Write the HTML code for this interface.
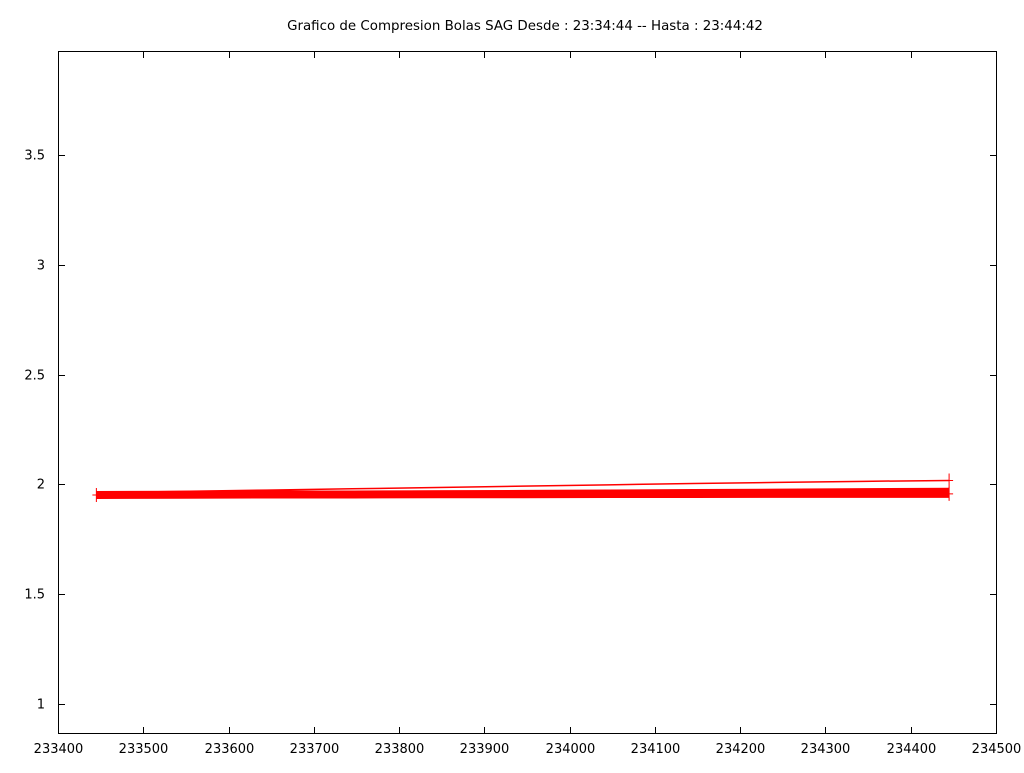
<!DOCTYPE html>
<html><head><meta charset="utf-8"><style>
html,body{margin:0;padding:0;background:#fff;}
svg text{font-family:"DejaVu Sans","Liberation Sans",sans-serif;font-size:13px;fill:#000;}
svg text.title{font-size:13.4px;}
</style></head><body>
<svg id="chart" width="1024" height="768">
<text class="title" x="525" y="30" text-anchor="middle">Grafico de Compresion Bolas SAG Desde : 23:34:44 -- Hasta : 23:44:42</text>
<rect x="58.5" y="51.5" width="938" height="682" fill="none" stroke="#000"/>
<g id="axes"></g><g id="marks"></g>
</svg>
<script>
const xTicks=[233400,233500,233600,233700,233800,233900,234000,234100,234200,234300,234400,234500];
const yTicks=[1,1.5,2,2.5,3,3.5];
const xs=[233445,233545,233645,233745,233845,233945,234045,234145,234245,234345,234445];
const upper=[1.962,1.968,1.974,1.980,1.986,1.992,1.998,2.004,2.009,2.014,2.018];
const middle=[1.958,1.960,1.962,1.964,1.966,1.968,1.970,1.972,1.974,1.976,1.978];
const lower=[1.952,1.953,1.954,1.954,1.955,1.955,1.956,1.956,1.957,1.957,1.957];
const X=v=>58+(v-233400)*938/1100;
const Y=v=>704-(v-1)*219.6;
const ns="http://www.w3.org/2000/svg";
const ax=document.getElementById('axes'),mk=document.getElementById('marks');
function mkEl(t,a,p){const e=document.createElementNS(ns,t);for(const k in a)e.setAttribute(k,a[k]);p.appendChild(e);return e;}
xTicks.forEach(v=>{const x=Math.round(X(v))+0.5;
const t=mkEl('line',{x1:x,x2:x,y1:733,y2:727,stroke:'#000'},ax);


const t2=mkEl('line',{x1:x,x2:x,y1:52,y2:58,stroke:'#000'},ax);


const l=mkEl('text',{x:x,y:753,'text-anchor':'middle'},ax);l.textContent=v;

});
yTicks.forEach(v=>{const y=Math.round(Y(v))+0.5;
const t=mkEl('line',{x1:59,x2:65,y1:y,y2:y,stroke:'#000'},ax);


const t2=mkEl('line',{x1:990,x2:996,y1:y,y2:y,stroke:'#000'},ax);


const l=mkEl('text',{x:45,y:y+4,'text-anchor':'end'},ax);l.textContent=v;

});
function series(vals,w,name){const pts=xs.map((x,i)=>X(x)+','+Y(vals[i])).join(' ');
const p=mkEl('polyline',{points:pts,fill:'none',stroke:'#f00','stroke-width':w},mk);

}
series(lower,8,'series-lower');
series(middle,3,'series-middle');
series(upper,1.5,'series-upper');
[[xs[0],lower[0]],[xs[xs.length-1],lower[lower.length-1]],[xs[xs.length-1],upper[upper.length-1]]].forEach(d=>{
const x=X(d[0]),y=Y(d[1]);
const g=mkEl('path',{d:`M${x-4},${y}H${x+4}M${x},${y-7}V${y+7}`,stroke:'#f00','stroke-width':1},mk);

});
</script>
</body></html>
